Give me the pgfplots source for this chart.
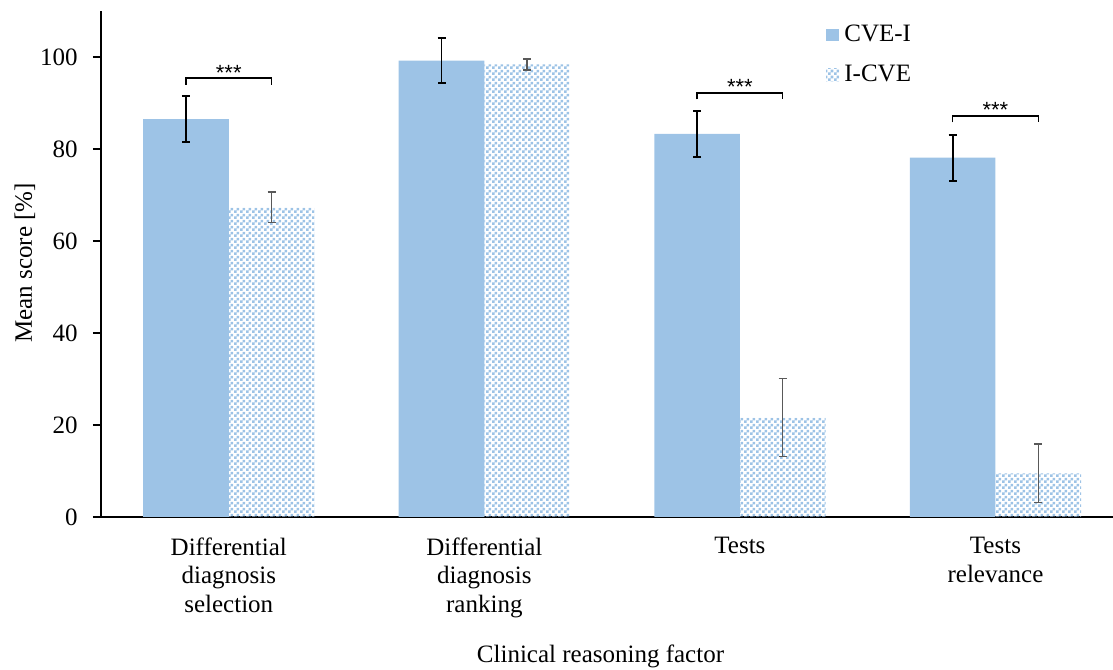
\documentclass[border=0pt]{standalone}
\usepackage{fontspec}
\setmainfont{Liberation Serif}
\newfontfamily\starfont{Liberation Sans}
\usepackage{pgfplots}
\pgfplotsset{compat=1.18}
\usepackage{pgfplotstable}
\usetikzlibrary{patterns}

\definecolor{barblue}{RGB}{157,195,230}
\definecolor{errgray}{RGB}{89,89,89}

% fine checkerboard used for the I-CVE bars
\pgfdeclarepatternformonly{finechecks}{\pgfqpoint{0pt}{0pt}}{\pgfqpoint{3pt}{3pt}}{\pgfqpoint{3pt}{3pt}}{%
  \pgfpathrectangle{\pgfqpoint{0pt}{0pt}}{\pgfqpoint{1.5pt}{1.5pt}}%
  \pgfpathrectangle{\pgfqpoint{1.5pt}{1.5pt}}{\pgfqpoint{1.5pt}{1.5pt}}%
  \pgfusepath{fill}}

% mean score and its error, per clinical reasoning factor
\pgfplotstableread{
idx cve  cveerr icve icveerr
0   86.5 5.0    67.3 3.3
1   99.2 4.9    98.4 1.2
2   83.3 5.0    21.6 8.5
3   78.1 5.0    9.5  6.4
}\scores

\newcommand{\txt}{\fontsize{12.5}{14.35}\selectfont}
\tikzset{
  bracket/.style={line width=0.7pt, black},
  stars/.style={anchor=base, inner sep=0pt, font=\starfont\fontsize{11}{12}\selectfont},
}

\begin{document}
\begin{tikzpicture}
\path[use as bounding box] (0,0) rectangle (556.5pt,334.5pt);
\begin{axis}[
  at={(50.5pt,76pt)}, anchor=south west,
  scale only axis, width=506pt, height=253pt,
  xmin=-0.5, xmax=3.46, ymin=0, ymax=110,
  axis lines*=left,
  axis line style={line width=0.8pt, black},
  ybar, bar width=0.335,
  ytick={0,20,40,60,80,100},
  tick align=outside, major tick length=4pt,
  ytick style={line width=0.8pt, black},
  xtick={0,1,2,3},
  xtick style={draw=none},
  xticklabels={{Differential\\diagnosis\\selection},{Differential\\diagnosis\\ranking},{Tests},{Tests\\relevance}},
  xticklabel style={align=center, anchor=north, inner sep=0pt, yshift=-6pt, font=\txt},
  yticklabel style={anchor=east, inner sep=0pt, xshift=-7.5pt, font=\txt},
  /pgf/number format/assume math mode=true,
  legend style={draw=none, fill=none, at={(axis description cs:0.716,0.978)}, anchor=north west,
    inner sep=0pt, font=\txt, row sep=8pt, nodes={inner sep=1.2pt},
    /tikz/every odd column/.append style={column sep=1.5pt}},
  legend cell align=left,
  legend image code/.code={\fill[#1,draw=none] (0pt,-3.1pt) rectangle (6.5pt,3.1pt);},
]
\addplot[fill=barblue, draw=none, bar shift=-0.1675,
  error bars/.cd, y dir=both, y explicit,
  error bar style={line width=0.9pt, black},
  error mark options={rotate=90, line width=0.9pt, mark size=2pt, black}]
  table[x=idx, y=cve, y error=cveerr] {\scores};
\addplot[pattern=finechecks, pattern color=barblue, draw=none, bar shift=0.1675,
  error bars/.cd, y dir=both, y explicit,
  error bar style={line width=0.75pt, errgray},
  error mark options={rotate=90, line width=0.75pt, mark size=2pt, errgray}]
  table[x=idx, y=icve, y error=icveerr] {\scores};
\legend{CVE-I, I-CVE}

% significance brackets
\draw[bracket] (axis cs:-0.1675,94.0) -- (axis cs:-0.1675,95.4) -- (axis cs:0.1675,95.4) -- (axis cs:0.1675,94.0);
\node[stars] at (axis cs:0,94.95) {***};
\draw[bracket] (axis cs:1.8325,90.8) -- (axis cs:1.8325,92.2) -- (axis cs:2.1675,92.2) -- (axis cs:2.1675,90.8);
\node[stars] at (axis cs:2,91.75) {***};
\draw[bracket] (axis cs:2.8325,85.8) -- (axis cs:2.8325,87.2) -- (axis cs:3.1675,87.2) -- (axis cs:3.1675,85.8);
\node[stars] at (axis cs:3,86.75) {***};
\end{axis}
\node[rotate=90, anchor=base, font=\txt] at (16pt,203pt) {Mean score [\%]};
\node[anchor=base, font=\txt] at (300.25pt,3.2pt) {Clinical reasoning factor};
\end{tikzpicture}
\end{document}
